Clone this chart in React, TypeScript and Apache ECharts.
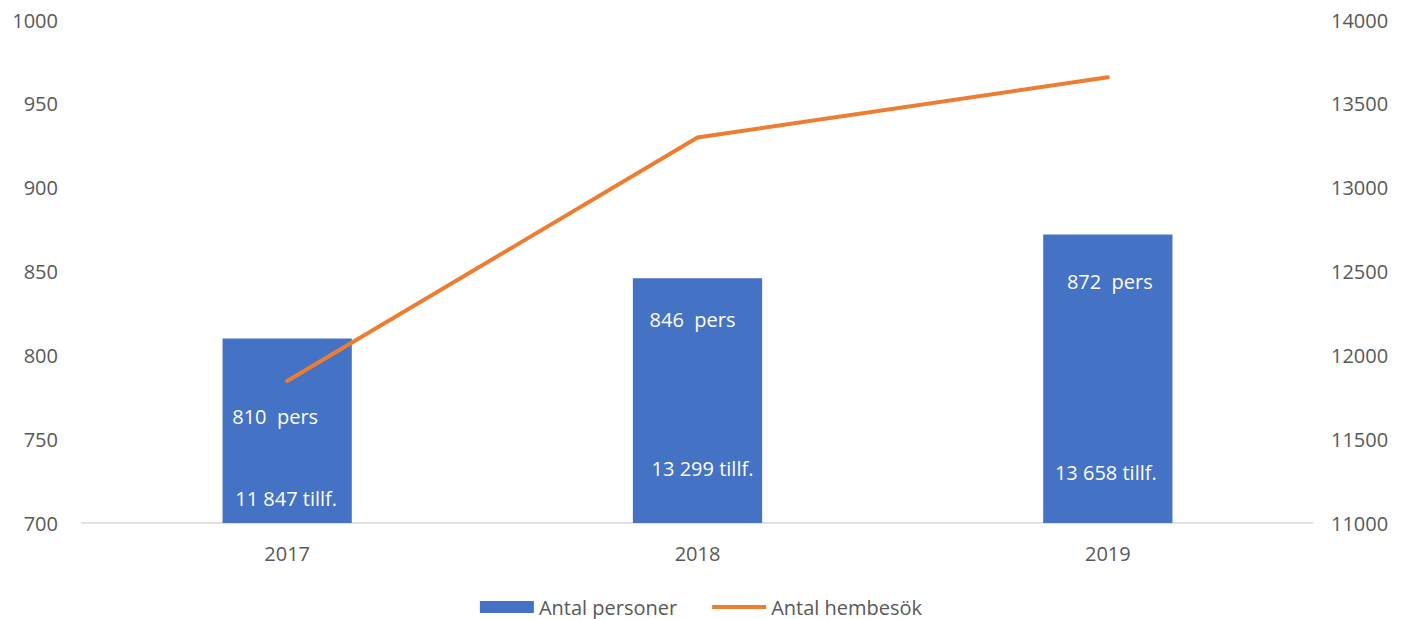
import React, { useEffect, useRef } from "react";
import * as echarts from "echarts";

const years = ["2017", "2018", "2019"];
const personer = [810, 846, 872];
const hembesok = [11847, 13299, 13658];
const leftTicks = { min: 700, max: 1000, interval: 50 };
const rightTicks = { min: 11000, max: 14000, interval: 500 };

// label placement tweaks (pixels), per bar
const persLabelY = [78, 41, 47];
const persLabelDX = [-12, -5, 2];
const tillfLabelUp = [27, 57, 53];
const tillfLabelDX = [-1, 5, -2];

const FONT = "'Open Sans', 'Noto Sans', sans-serif";
const TEXT = "#595959";

function fmt(n: number): string {
  return String(n).replace(/\B(?=(\d{3})+(?!\d))/g, " ");
}

export default function App() {
  const ref = useRef<HTMLDivElement>(null);
  useEffect(() => {
    if (!ref.current) return;
    const chart = echarts.init(ref.current, undefined, { renderer: "svg" });
    chart.setOption({
      animation: false,
      textStyle: { fontFamily: FONT },
      grid: { left: 82, right: 89, top: 20, bottom: 96 },
      legend: {
        data: [
          { name: "Antal personer", icon: "rect" },
          { name: "Antal hembesök", icon: "path://M0,0 L56,0 L56,4 L0,4 Z" },
        ],
        top: 596,
        padding: 0,
        left: "center",
        itemWidth: 54,
        itemHeight: 12,
        itemGap: 35,
        textStyle: { fontFamily: FONT, fontSize: 20, lineHeight: 22, color: TEXT },
      },
      xAxis: {
        type: "category",
        data: years,
        axisLine: { lineStyle: { color: "#D9D9D9", width: 1.5 } },
        axisTick: { show: false },
        axisLabel: { color: TEXT, fontSize: 20, fontFamily: FONT, margin: 20 },
      },
      yAxis: [
        {
          type: "value",
          ...leftTicks,
          splitLine: { show: false },
          axisLine: { show: false },
          axisTick: { show: false },
          axisLabel: {
            color: TEXT,
            fontSize: 20,
            fontFamily: FONT,
            margin: 24,
            formatter: (v: number) => String(v),
          },
        },
        {
          type: "value",
          ...rightTicks,
          splitLine: { show: false },
          axisLine: { show: false },
          axisTick: { show: false },
          axisLabel: {
            color: TEXT,
            fontSize: 20,
            fontFamily: FONT,
            margin: 18,
            formatter: (v: number) => String(v),
          },
        },
      ],
      series: [
        {
          name: "Antal personer",
          type: "bar",
          yAxisIndex: 0,
          barWidth: "31.5%",
          barGap: "-100%",
          itemStyle: { color: "#4472C4" },
          data: personer.map((v, i) => ({
            value: v,
            label: {
              show: true,
              position: ["50%", persLabelY[i]],
              offset: [persLabelDX[i], 0],
              align: "center",
              verticalAlign: "middle",
              color: "#FFFFFF",
              fontSize: 20,
              fontFamily: FONT,
              formatter: `${v}  pers`,
            },
          })),
        },
        {
          name: "tillf",
          type: "bar",
          yAxisIndex: 0,
          barWidth: "31.5%",
          barGap: "-100%",
          silent: true,
          itemStyle: { color: "rgba(0,0,0,0)" },
          data: personer.map((v, i) => ({
            value: v,
            label: {
              show: true,
              position: "insideBottom",
              distance: 0,
              offset: [tillfLabelDX[i], -tillfLabelUp[i] + 12],
              color: "#FFFFFF",
              fontSize: 20,
              fontFamily: FONT,
              formatter: `${fmt(hembesok[i])} tillf.`,
            },
          })),
        },
        {
          name: "Antal hembesök",
          type: "line",
          yAxisIndex: 1,
          symbol: "none",
          lineStyle: { color: "#ED7D31", width: 4, cap: "round" },
          itemStyle: { color: "#ED7D31" },
          data: hembesok,
        },
      ],
    });
    return () => chart.dispose();
  }, []);
  return (
    <div
      ref={ref}
      style={{ position: "absolute", left: 0, top: 0, width: 1402, height: 619 }}
    />
  );
}
